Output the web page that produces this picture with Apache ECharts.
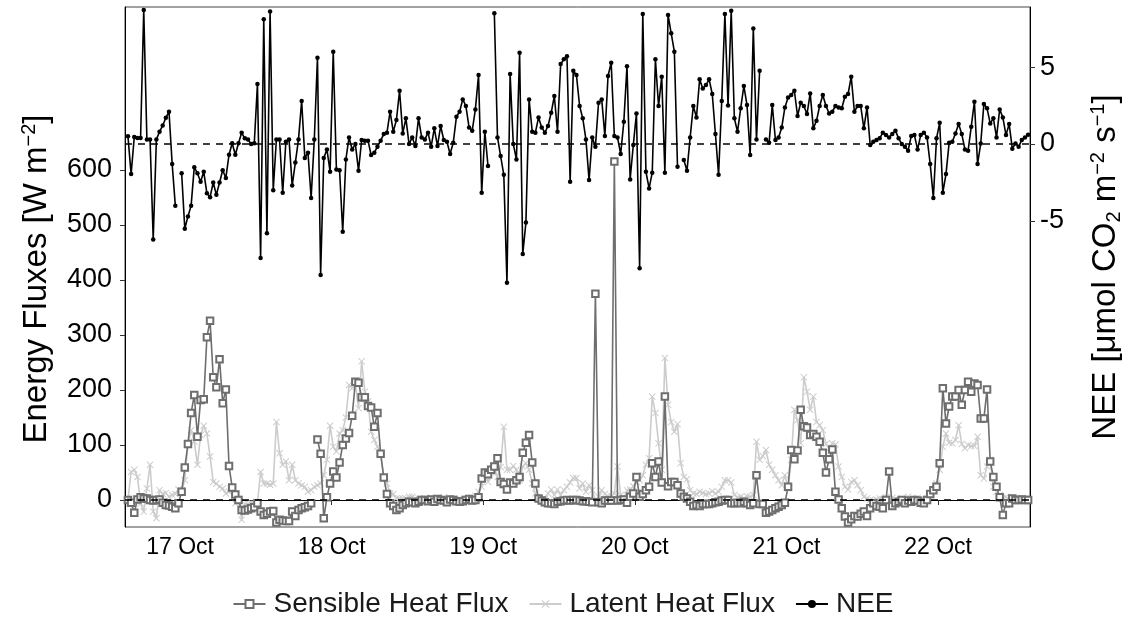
<!DOCTYPE html>
<html><head><meta charset="utf-8">
<script src="https://cdn.jsdelivr.net/npm/echarts@6/dist/echarts.min.js"></script>
<style>html,body{margin:0;padding:0;background:#fff}#c{width:1126px;height:637px}</style>
</head><body><div id="c"></div>
<script>
// half-hourly series, first sample 16 Oct 15:45
const startTime = Date.UTC(2019, 9, 16, 15, 45);
const stepMs = 30 * 60 * 1000;
const xMin = Date.UTC(2019, 9, 16, 15, 17);
const xMax = Date.UTC(2019, 9, 22, 14, 33);
const dayTicks = [17, 18, 19, 20, 21, 22];
const fluxTicks = [0, 100, 200, 300, 400, 500, 600];
const neeTicks = [-5, 0, 5];

const nee = [
0.5,-1.95,0.45,0.4,0.4,8.7,0.3,0.3,-6.2,0.3,0.8,1.2,1.7,2.1,-1.3,-4.0,null,-1.9,-5.5,-4.7,
-4.0,-1.5,-1.9,-2.45,-1.8,-3.2,-3.45,-2.5,-3.3,-2.5,-1.7,-2.2,-0.7,0.05,-0.7,0.05,0.73,0.37,0.3,0.0,
0.05,3.9,-7.4,8.1,-5.8,8.6,-3.0,0.3,0.3,-3.16,0.15,0.3,-2.7,-1.2,0.3,2.8,-0.9,-0.56,-3.5,0.3,
5.6,-8.5,-0.9,-0.35,-1.8,6.0,-1.65,-1.7,-5.7,-1.0,0.43,-0.35,0.0,-1.73,0.26,0.22,0.22,-0.71,-0.56,-0.17,
0.22,0.65,0.74,2.1,0.8,1.56,3.46,0.69,1.67,0.0,0.43,-0.13,1.67,0.43,0.3,0.74,-0.17,1.02,-0.13,1.17,
0.26,0.15,-0.65,0.09,1.77,2.1,2.9,2.47,1.08,0.87,2.25,4.48,-3.16,0.8,-1.43,null,8.5,0.43,-0.78,-2.0,
-9.0,4.55,0.0,-1.0,5.93,-7.14,-5.1,2.9,0.8,0.74,1.73,1.08,0.74,1.17,2.03,3.12,0.8,5.2,5.5,5.7,
-2.45,4.76,4.48,2.47,1.67,0.3,-2.34,0.43,-0.17,2.68,2.9,0.52,4.42,5.28,0.52,0.43,-0.65,1.45,5.06,-2.3,
-0.06,1.99,-8.07,8.44,-1.8,-2.88,-1.86,5.5,2.47,4.37,-1.86,8.38,7.19,6.0,-1.47,null,-1.04,-1.73,0.43,2.47,
1.73,4.2,3.6,3.83,4.2,3.25,0.65,-2.0,2.8,8.44,2.5,8.66,1.67,0.8,2.32,3.77,2.53,-0.71,7.5,0.3,
4.76,null,0.3,0.09,2.53,0.26,0.43,1.08,2.38,3.03,3.18,3.46,1.82,2.68,2.47,1.95,3.29,1.02,1.51,2.47,
3.18,2.47,1.99,2.1,2.47,2.38,2.32,3.07,3.25,4.37,2.1,2.47,2.47,1.02,2.38,-0.06,0.15,0.26,0.37,0.74,
0.58,0.43,0.65,0.87,0.37,0,-0.17,-0.43,0.52,0.58,-0.35,0.58,0.74,0.43,-1.3,-3.5,0.37,1.38,-3.16,-1.95,
0.09,0.15,0.69,1.3,0.65,-0.35,-0.43,1.13,2.75,-1.3,0.04,2.6,2.32,1.34,1.67,0.43,2.25,1.73,0.58,1.3,
-0.3,0.04,-0.17,0.26,0.43,0.6
];

const sensible = [
0,-5,-23,1,5,3,3,0,-1,0,1,-5,-9,-10,-12,-15,-6,15,59,102,
158,191,115,182,183,296,326,223,205,256,176,201,62,23,10,0,-18,-19,-17,-15,
-13,-6,-21,-27,-25,-21,-20,-41,-36,-37,-38,-38,-21,-29,-18,-15,-13,-11,-6,null,
110,84,-33,5,30,52,41,68,100,112,122,153,215,213,187,187,171,168,133,158,
84,41,11,-6,-11,-18,-15,-9,-6,-3,-4,-6,-3,0,0,-2,1,-3,2,0,
-1,-4,1,0,-2,-3,-2,0,2,-1,0,5,39,50,47,55,61,76,33,29,
19,32,30,36,42,86,104,118,68,30,3,-1,-4,-6,-6,-7,-3,-2,-1,0,
-1,0,0,-1,-2,-2,-3,-4,375,-4,-6,-1,-1,-1,615,-1,0,1,-5,6,
12,42,6,11,18,24,67,42,70,32,188,25,33,33,27,12,6,3,-3,-11,
-9,-11,-7,-7,-7,-6,-4,-3,-1,0,0,-6,-6,-5,-6,-3,-6,-9,-6,45,
-7,-7,-23,-21,-18,-15,-12,-9,-5,24,91,74,90,164,134,132,118,120,115,106,
86,50,74,92,15,1,-15,-30,-41,-35,-29,-30,-25,-21,-29,-15,-6,-11,-12,-15,
0,52,-11,-6,-3,0,-6,-1,-3,0,-1,-5,-6,0,11,18,24,67,203,139,
170,188,188,200,173,200,215,197,212,209,148,148,201,70,42,24,5,-27,-6,-6,
3,0,0,1,0,0
];

const latent = [
0,51,55,42,-6,-21,21,64,-21,-33,18,11,13,6,9,11,19,18,36,102,
127,106,64,118,135,121,79,33,30,24,21,12,15,18,-6,3,-36,-7,-7,-5,
-7,-5,51,30,30,28,30,142,85,64,70,36,64,36,30,27,24,15,18,24,
27,30,45,73,135,97,88,121,127,150,209,203,212,167,252,197,179,124,109,97,
85,42,30,12,11,3,3,3,3,6,6,3,3,0,3,-2,4,0,2,-3,
5,0,-4,2,0,3,-2,1,0,4,8,15,24,48,33,51,58,42,60,133,
55,55,62,55,36,61,67,55,30,12,3,1,1,12,19,9,19,9,18,24,
32,40,40,21,30,15,27,18,0,6,18,11,7,7,12,61,9,1,18,19,
25,33,36,45,64,76,188,158,103,55,258,173,142,124,138,67,42,38,18,12,
11,15,13,11,12,16,12,15,24,36,36,32,9,5,6,3,7,6,9,106,
73,80,91,64,55,45,36,27,45,21,73,164,145,103,223,197,164,188,142,136,
127,102,94,103,101,61,42,24,19,33,36,27,18,6,3,0,-1,1,3,2,
5,-3,4,1,-2,3,0,6,2,-1,4,1,0,3,11,19,30,55,97,121,
104,103,109,136,102,94,100,98,98,115,45,39,61,73,24,15,9,3,6,0,
3,2,-1,2,0,1
];

const toPairs = arr => arr.map((v, i) => [startTime + i * stepMs, v]);
const dayValues = dayTicks.map(d => Date.UTC(2019, 9, d));

const FONT = 'Liberation Sans';
const chart = echarts.init(document.getElementById('c'), null, {renderer: 'canvas'});
const xShape = 'path://M1,0 L5,4 L9,0 L10,1 L6,5 L10,9 L9,10 L5,6 L1,10 L0,9 L4,5 L0,1 Z';
const titleRich = {
  t: {fontSize: 33, fontFamily: FONT, color: '#000'},
  sup: {fontSize: 20, fontFamily: FONT, color: '#000', verticalAlign: 'top', padding: [0, 0, 16, 0]},
  sub: {fontSize: 20, fontFamily: FONT, color: '#000', verticalAlign: 'bottom', padding: [12, 0, 0, 0]}
};

chart.setOption({
  animation: false,
  backgroundColor: '#fff',
  textStyle: {fontFamily: FONT},
  grid: {left: 125, right: 96, top: 7, bottom: 110, show: true, borderColor: '#444', borderWidth: 1,
    containLabel: false, outerBoundsMode: 'none'},
  legend: {
    bottom: 14, left: 'center',
    itemWidth: 32, itemHeight: 10, itemGap: 20,
    textStyle: {fontFamily: FONT, fontSize: 28, color: '#1a1a1a', padding: [0, 0, 0, 3]},
    data: ['Sensible Heat Flux', 'Latent Heat Flux', 'NEE']
  },
  xAxis: {
    type: 'value', min: xMin, max: xMax,
    axisLine: {lineStyle: {color: '#000', width: 1}},
    axisTick: {show: true, customValues: dayValues, length: 5, lineStyle: {color: '#333'}},
    axisLabel: {customValues: dayValues, fontSize: 23, color: '#000', margin: 9,
      formatter: v => new Date(v).getUTCDate() + ' Oct'},
    splitLine: {show: false}
  },
  yAxis: [{
    type: 'value', min: -49, max: 896, position: 'left',
    name: '{t|Energy Fluxes [W m}{sup|−2}{t|]}',
    nameLocation: 'middle', nameRotate: 90, nameGap: 70,
    nameTextStyle: {rich: titleRich, padding: [0, 24, 0, 0]},
    axisLine: {show: true, lineStyle: {color: '#000'}},
    axisTick: {show: true, customValues: fluxTicks, length: 5, lineStyle: {color: '#333'}},
    axisLabel: {customValues: fluxTicks, fontSize: 27, color: '#000', margin: 13},
    splitLine: {show: false}
  }, {
    type: 'value', min: -24.87, max: 8.9, position: 'right',
    name: '{t|NEE [μmol CO}{sub|2}{t| m}{sup|−2}{t| s}{sup|−1}{t|]}',
    nameLocation: 'middle', nameRotate: 90, nameGap: 58,
    nameTextStyle: {rich: titleRich},
    axisLine: {show: true, lineStyle: {color: '#000'}},
    axisTick: {show: true, customValues: neeTicks, length: 5, lineStyle: {color: '#333'}},
    axisLabel: {customValues: neeTicks, fontSize: 27, color: '#000', margin: 10},
    splitLine: {show: false}
  }],
  series: [{
    name: 'Latent Heat Flux', type: 'line', yAxisIndex: 0,
    data: toPairs(latent),
    symbol: xShape, symbolSize: 7,
    itemStyle: {color: '#cccccc'},
    lineStyle: {color: '#cccccc', width: 1.6},
    z: 2
  }, {
    name: 'Sensible Heat Flux', type: 'line', yAxisIndex: 0,
    data: toPairs(sensible),
    symbol: 'emptyRect', symbolSize: 6.5,
    itemStyle: {color: '#6e6e6e', borderWidth: 1.2},
    lineStyle: {color: '#6e6e6e', width: 1.6},
    z: 3,
    markLine: {silent: true, symbol: 'none', label: {show: false},
      lineStyle: {color: '#000', type: [7, 6], width: 1.6},
      data: [{yAxis: 0}]}
  }, {
    name: 'NEE', type: 'line', yAxisIndex: 1,
    data: toPairs(nee),
    symbol: 'circle', symbolSize: 4.5,
    itemStyle: {color: '#000'},
    lineStyle: {color: '#000', width: 1.6},
    z: 4,
    markLine: {silent: true, symbol: 'none', label: {show: false},
      lineStyle: {color: '#000', type: [7, 6], width: 1.6},
      data: [{yAxis: 0}]}
  }]
});
</script>
</body></html>
